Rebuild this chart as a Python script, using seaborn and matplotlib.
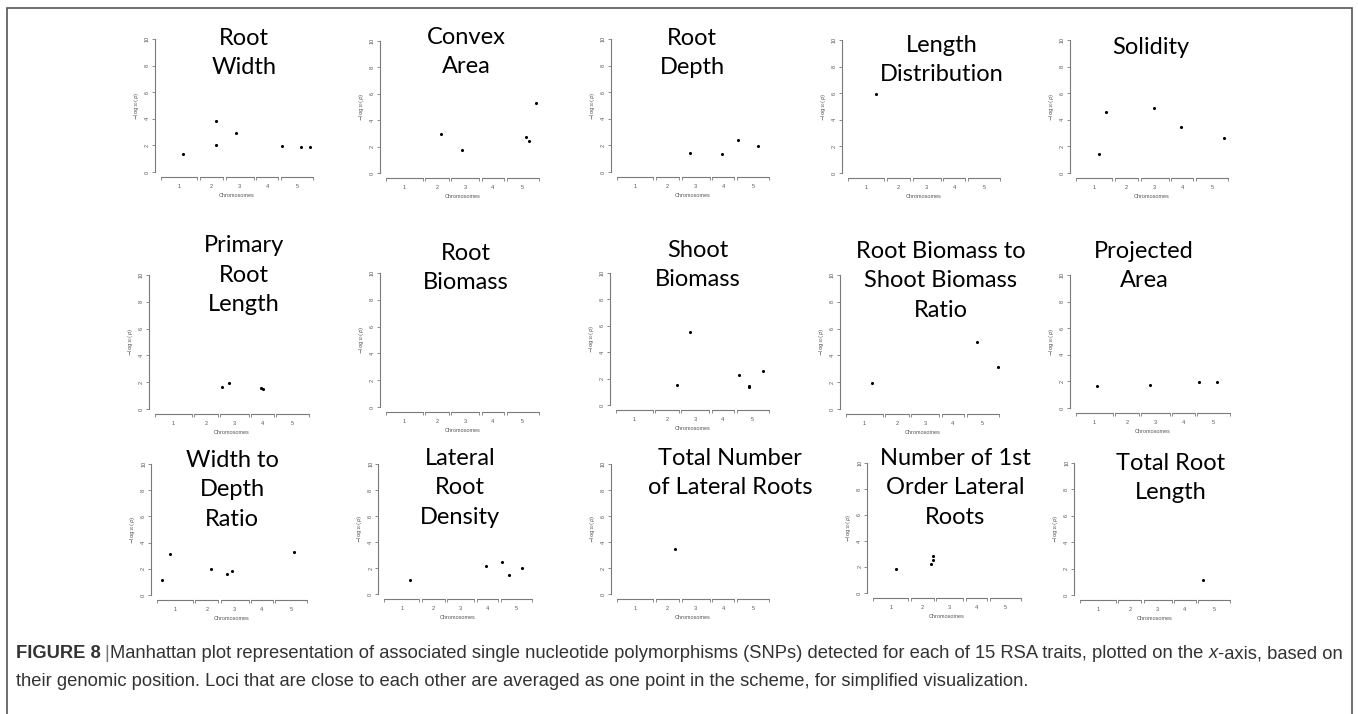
import matplotlib
matplotlib.use("Agg")
import matplotlib.pyplot as plt
from matplotlib.patches import Rectangle
from matplotlib.ticker import FixedLocator
import seaborn as sns
import pandas as pd

sns.set_style("white")
plt.rcParams["font.family"] = ["Liberation Sans", "DejaVu Sans"]

# -----------------------------
# Data
# -----------------------------
chrom_names = ["1", "2", "3", "4", "5"]
chrom_len = [30.4, 19.7, 23.5, 18.6, 27.0]   # Mb
chrom_gap = 2.0

# SNPs per trait: (chromosome, position in Mb, -log10 p)
root_width = [(1, 18.8, 1.38), (2, 13.3, 3.82), (2, 13.3, 2.04), (3, 8.9, 2.91),
              (5, 1.0, 1.98), (5, 16.8, 1.91), (5, 24.3, 1.88)]
convex_area = [(2, 13.5, 2.94), (3, 9.3, 1.73), (5, 16.0, 2.74), (5, 19.0, 2.44),
               (5, 24.3, 5.28)]
root_depth = [(3, 6.7, 1.43), (4, 8.1, 1.36), (5, 0.7, 2.41), (5, 17.5, 1.96)]
length_distribution = [(1, 23.2, 5.93)]
solidity = [(1, 19.4, 1.43), (1, 24.8, 4.60), (3, 11.2, 4.92), (4, 7.9, 3.47),
            (5, 23.7, 2.62)]
primary_root_length = [(3, 1.2, 1.67), (3, 6.8, 1.94), (4, 8.3, 1.59), (4, 9.7, 1.49)]
root_biomass = []
shoot_biomass = [(2, 18.4, 1.54), (3, 7.6, 5.52), (5, 2.4, 2.30), (5, 10.1, 1.44),
                 (5, 10.7, 1.39), (5, 21.7, 2.58)]
root_shoot_ratio = [(1, 21.7, 1.92), (5, 8.9, 4.98), (5, 26.4, 3.11)]
projected_area = [(1, 17.2, 1.65), (3, 6.8, 1.70), (5, 1.3, 1.93), (5, 16.4, 1.93)]
width_depth_ratio = [(1, 4.5, 1.17), (1, 11.2, 3.16), (2, 13.6, 2.01), (3, 5.5, 1.57),
                     (3, 9.7, 1.84), (5, 15.9, 3.26)]
lateral_root_density = [(1, 22.3, 1.05), (4, 8.0, 2.15), (5, 1.4, 2.44), (5, 7.2, 1.49),
                        (5, 18.8, 2.00)]
total_lateral_roots = [(2, 16.0, 3.44)]
first_order_roots = [(1, 19.9, 1.85), (2, 17.2, 2.23), (2, 18.8, 2.56), (2, 19.5, 2.87)]
total_root_length = [(5, 3.7, 1.16)]

titles = ["Root\nWidth", "Convex\nArea", "Root\nDepth", "Length\nDistribution", "Solidity",
          "Primary\nRoot\nLength", "Root\nBiomass", "Shoot\nBiomass",
          "Root Biomass to\nShoot Biomass\nRatio", "Projected\nArea",
          "Width to\nDepth\nRatio", "Lateral\nRoot\nDensity", "Total Number\nof Lateral Roots",
          "Number of 1st\nOrder Lateral\nRoots", "Total Root\nLength"]
traits = [root_width, convex_area, root_depth, length_distribution, solidity,
          primary_root_length, root_biomass, shoot_biomass, root_shoot_ratio, projected_area,
          width_depth_ratio, lateral_root_density, total_lateral_roots, first_order_roots,
          total_root_length]

# -----------------------------
# Layout (pixels): x-axis start, x-axis end, y of 10, y of 0 ; title centre
# -----------------------------
boxes = [(161, 313, 39, 172), (386, 539, 41, 173), (617, 769, 39, 172), (848, 1000, 40, 173),
         (1076, 1228, 40, 173),
         (155, 309, 275, 409), (386, 539, 273, 407), (616, 769, 273, 405), (846, 999, 275, 409),
         (1076, 1230, 275, 408),
         (157, 307, 464, 595), (384, 532, 464, 594), (617, 769, 464, 594), (873, 1021, 463, 593),
         (1080, 1230, 463, 595)]
title_pos = [(244, 53), (466, 52), (692, 53), (942, 60), (1151, 47),
             (244, 275), (466, 268), (698, 265), (941, 281), (1144, 266),
             (232, 490), (460, 488), (730, 473), (955, 488), (1171, 478)]

W, H = 1358, 714
fig = plt.figure(figsize=(W / 100, H / 100), dpi=100)

starts = []
pos = 0.0
for L in chrom_len:
    starts.append(pos)
    pos += L + chrom_gap
total = pos - chrom_gap
ends = [s + L for s, L in zip(starts, chrom_len)]
centers = [s + L / 2 for s, L in zip(starts, chrom_len)]

axis_col = "#7a7a7a"
text_col = "#555555"

for snps, title, box, tpos in zip(traits, titles, boxes, title_pos):
    xs, xe, y10, y0 = box
    ppm = (xe - xs) / total
    left = xs - 0.04 * total * ppm
    width = 1.08 * total * ppm
    upp = (y0 - y10) / 10
    bottom = y0 + 0.4 * upp
    top = y10 - 0.4 * upp
    ax = fig.add_axes([left / W, 1 - bottom / H, width / W, (bottom - top) / H])

    if snps:
        df = pd.DataFrame(snps, columns=["chrom", "pos", "logp"])
        df["x"] = [starts[c - 1] + p for c, p in zip(df["chrom"], df["pos"])]
        sns.scatterplot(data=df, x="x", y="logp", ax=ax, color="black", s=5,
                        linewidth=0, legend=False)

    ax.set_xlim(-0.04 * total, 1.04 * total)
    ax.set_ylim(-0.4, 10.4)
    for side in ["top", "right", "bottom"]:
        ax.spines[side].set_visible(False)
    ax.spines["left"].set_bounds(0, 10)
    ax.spines["left"].set_color(axis_col)
    ax.spines["left"].set_linewidth(0.8)
    for s, e in zip(starts, ends):
        ax.plot([s, e], [-0.4, -0.4], color=axis_col, lw=0.8, clip_on=False)

    ax.set_xticks(centers)
    ax.set_xticklabels(chrom_names)
    ax.xaxis.set_minor_locator(FixedLocator(starts + ends))
    ax.tick_params(axis="x", which="major", length=0, pad=5, labelsize=4, labelcolor=text_col)
    ax.tick_params(axis="x", which="minor", length=2.5, width=0.6, color=axis_col,
                   direction="out", bottom=True)
    ax.set_yticks([0, 2, 4, 6, 8, 10])
    ax.tick_params(axis="y", length=2.5, width=0.6, color=axis_col, left=True, pad=1,
                   labelsize=4, labelcolor=text_col, labelrotation=90)
    for lab in ax.get_yticklabels():
        lab.set_va("center")
    ax.set_xlabel("Chromosomes", fontsize=4, color=text_col, labelpad=3)
    ax.set_ylabel(r"$-\log_{10}(p)$", fontsize=4, color=text_col, labelpad=3)
    ax.patch.set_alpha(0)

    fig.text(tpos[0] / W, 1 - tpos[1] / H, title, ha="center", va="center",
             multialignment="center", fontsize=17, family=["Lato", "DejaVu Sans"],
             linespacing=1.5, color="black")

# border of the figure panel
fig.patches.append(Rectangle((7 / W, -0.05), (1352 - 7) / W, (714 - 8) / H + 0.05,
                             transform=fig.transFigure, fill=False, ec="#555555", lw=1.2))

# -----------------------------
# Caption
# -----------------------------
cap_font = ["Liberation Sans", "DejaVu Sans"]
renderer = fig.canvas.get_renderer()
cap_line1 = ("Manhattan plot representation of associated single nucleotide polymorphisms "
             "(SNPs) detected for each of 15 RSA traits, plotted on the")
cap_line2 = ("their genomic position. Loci that are close to each other are averaged as one "
             "point in the scheme, for simplified visualization.")


def put(txt, x, y, size, **kw):
    kw.setdefault("color", "#333333")
    t = fig.text(x / W, 1 - y / H, txt, ha="left", va="center", fontsize=size,
                 family=cap_font, **kw)
    return t, t.get_window_extent(renderer).x1


def space(size):
    t = fig.text(0, 0, "a a", fontsize=size, family=cap_font)
    w1 = t.get_window_extent(renderer).width
    t.set_text("aa")
    w2 = t.get_window_extent(renderer).width
    t.remove()
    return w1 - w2


def caption(size):
    made = []
    sp = space(size)
    t, x = put("FIGURE 8", 16, 654, size, weight="bold"); made.append(t)
    t, x = put("|", x + sp * 0.6, 654, size, color="#777777"); made.append(t)
    t, x = put(cap_line1, x + sp * 0.3, 654, size); made.append(t)
    t, x = put("x", x + sp, 654, size, style="italic"); made.append(t)
    t, x = put("-axis, based on", x, 654, size); made.append(t)
    t, _ = put(cap_line2, 16, 682, size); made.append(t)
    return made, x


made, xend = caption(12)
size = 12 * (1344 - 16) / (xend - 16)
for t in made:
    t.remove()
caption(size)

fig.savefig("out.png", dpi=100)
